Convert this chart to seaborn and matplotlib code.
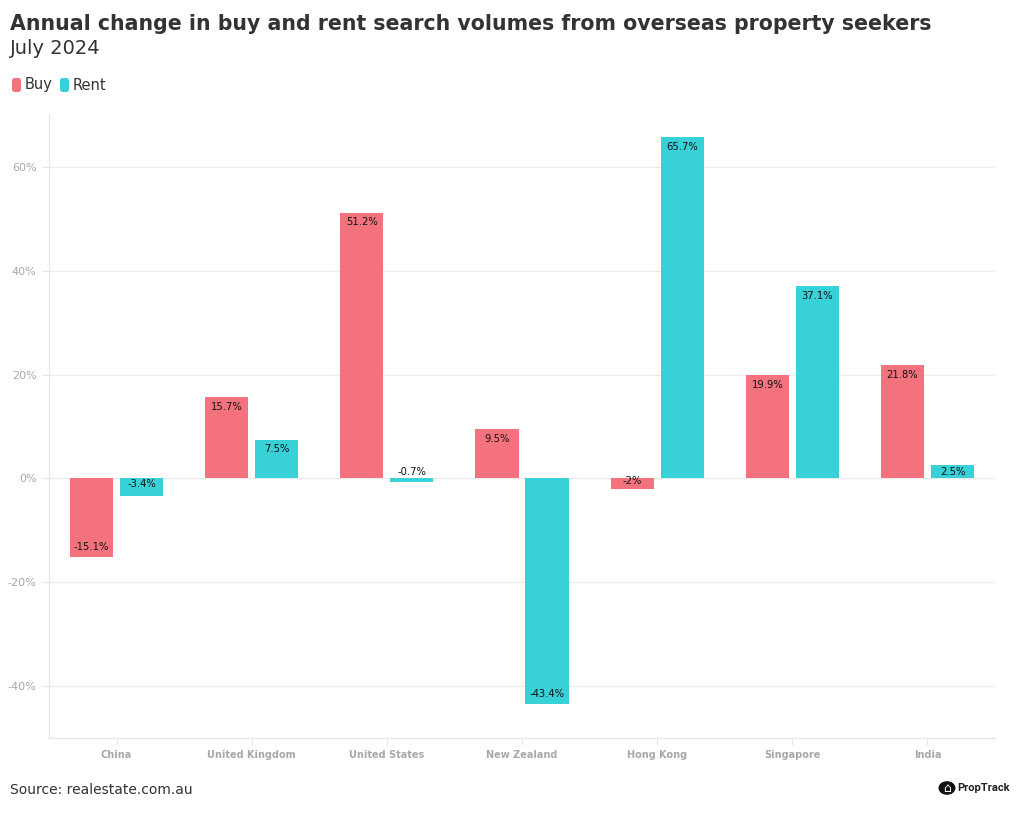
import matplotlib
matplotlib.use("Agg")
import matplotlib.pyplot as plt
import seaborn as sns
import pandas as pd
import numpy as np
from matplotlib.patches import FancyBboxPatch

countries = ["China", "United Kingdom", "United States", "New Zealand", "Hong Kong", "Singapore", "India"]
buy = [-15.1, 15.7, 51.2, 9.5, -2, 19.9, 21.8]
rent = [-3.4, 7.5, -0.7, -43.4, 65.7, 37.1, 2.5]
series = ["Buy", "Rent"]
colors = ["#f4727d", "#38d1d8"]
yticks = [-40, -20, 0, 20, 40, 60]

df = pd.DataFrame({
    "country": countries * 2,
    "value": buy + rent,
    "series": ["Buy"] * len(buy) + ["Rent"] * len(rent),
})

sns.set_theme(style="white")
plt.rcParams["font.family"] = ["DejaVu Sans"]

fig = plt.figure(figsize=(10.2, 8.16), dpi=100)
ax = fig.add_axes([0.048, 0.0956, 0.9275, 0.7634])

sns.barplot(data=df, x="country", y="value", hue="series", order=countries,
            hue_order=series, palette=colors, width=0.74, gap=0.135,
            saturation=1, ax=ax, legend=False, linewidth=0)

ax.set_ylim(-50, 70)
ax.set_xlim(-0.5, len(countries) - 0.5)
ax.set_yticks(yticks)
ax.set_yticklabels([f"{t}%" for t in yticks], fontsize=8, color="#a8a8a8")
ax.set_xticks(range(len(countries)))
ax.set_xticklabels(countries, fontsize=7, fontweight="bold", color="#a8a8a8")
ax.set_xlabel("")
ax.set_ylabel("")
ax.yaxis.grid(True, color="#ececec", linewidth=0.9)
ax.set_axisbelow(True)
for s in ["top", "right"]:
    ax.spines[s].set_visible(False)
for s in ["left", "bottom"]:
    ax.spines[s].set_color("#e6e6e6")
    ax.spines[s].set_linewidth(0.9)
ax.tick_params(axis="x", length=5, color="#e6e6e6", width=0.8, pad=4, bottom=True)
ax.tick_params(axis="y", length=5, color="#e6e6e6", width=0.8, pad=4, left=True)

# data labels
px_per_unit = ax.get_position().height * fig.get_figheight() * fig.dpi / 120.0
for cont in ax.containers:
    for bar in cont:
        v = bar.get_height()
        x = bar.get_x() + bar.get_width() / 2
        txt = f"{v:g}%"
        hpx = abs(v) * px_per_unit
        if abs(v) < 1:
            ax.annotate(txt, (x, 0), xytext=(0, 1), textcoords="offset points",
                        ha="center", va="bottom", fontsize=7.2, color="#111111")
        elif hpx < 22:
            ax.annotate(txt, (x, v / 2), xytext=(0, 2 if v < 0 else 0),
                        textcoords="offset points",
                        ha="center", va="center", fontsize=7.2, color="#111111")
        else:
            off = -7 if v > 0 else 7
            ax.annotate(txt, (x, v), xytext=(0, off), textcoords="offset points",
                        ha="center", va="center", fontsize=7.2, color="#111111")

# title & subtitle
fig.text(0.010, 0.970, "Annual change in buy and rent search volumes from overseas property seekers",
         fontsize=14.8, fontweight="bold", color="#333333", va="center", ha="left")
fig.text(0.010, 0.940, "July 2024", fontsize=14, color="#333333", va="center", ha="left")

# legend
lx = 12 / 1020
ly = 1 - 85 / 816
for i, (name, c) in enumerate(zip(series, colors)):
    x0 = lx + i * (48 / 1020)
    box = FancyBboxPatch((x0, ly - 7 / 816), 9 / 1020, 14 / 816,
                         boxstyle="round,pad=0,rounding_size=0.003",
                         transform=fig.transFigure, facecolor=c, edgecolor="none")
    fig.patches.append(box)
    fig.text(x0 + 13 / 1020, ly, name, fontsize=10.5, color="#333333", va="center", ha="left")

# source
fig.text(0.010, 1 - 790 / 816, "Source: realestate.com.au", fontsize=10, color="#333333",
         va="center", ha="left")

# PropTrack logo
fig.patches.append(plt.Circle((947 / 1020, 1 - 788 / 816), 8.5 / 1020, transform=fig.transFigure,
                              facecolor="#111111", edgecolor="none"))
fig.text(947 / 1020, 1 - 788.5 / 816, "⌂", fontsize=9, color="white", ha="center", va="center")
fig.text(957 / 1020, 1 - 788 / 816, "PropTrack", fontsize=8, fontweight="bold",
         family=["Roboto", "DejaVu Sans"], color="#222222", ha="left", va="center")

fig.savefig("out.png", dpi=100, facecolor="white")
